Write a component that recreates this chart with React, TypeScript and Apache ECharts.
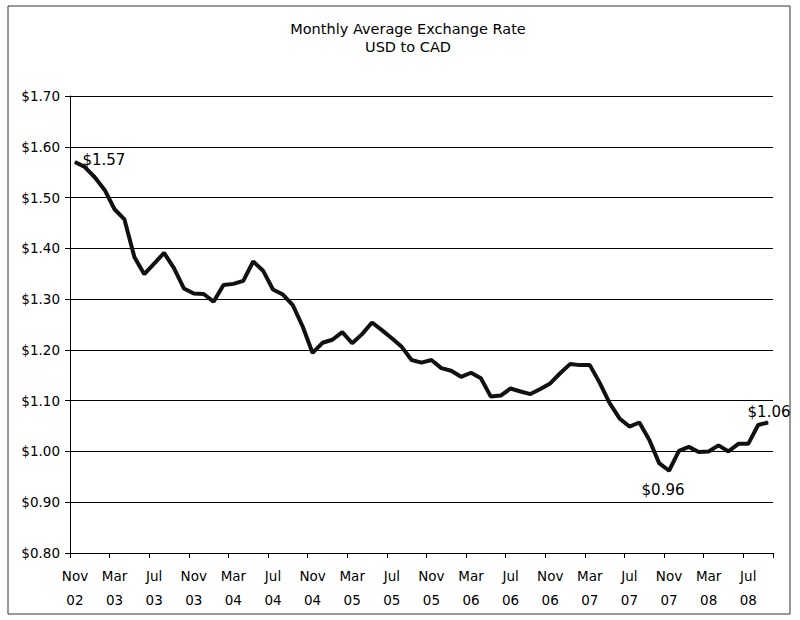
import React, { useEffect, useRef } from "react";
import * as echarts from "echarts";

const MONTHS = [
  "Nov 02", "Dec 02",
  "Jan 03", "Feb 03", "Mar 03", "Apr 03", "May 03", "Jun 03", "Jul 03", "Aug 03", "Sep 03", "Oct 03", "Nov 03", "Dec 03",
  "Jan 04", "Feb 04", "Mar 04", "Apr 04", "May 04", "Jun 04", "Jul 04", "Aug 04", "Sep 04", "Oct 04", "Nov 04", "Dec 04",
  "Jan 05", "Feb 05", "Mar 05", "Apr 05", "May 05", "Jun 05", "Jul 05", "Aug 05", "Sep 05", "Oct 05", "Nov 05", "Dec 05",
  "Jan 06", "Feb 06", "Mar 06", "Apr 06", "May 06", "Jun 06", "Jul 06", "Aug 06", "Sep 06", "Oct 06", "Nov 06", "Dec 06",
  "Jan 07", "Feb 07", "Mar 07", "Apr 07", "May 07", "Jun 07", "Jul 07", "Aug 07", "Sep 07", "Oct 07", "Nov 07", "Dec 07",
  "Jan 08", "Feb 08", "Mar 08", "Apr 08", "May 08", "Jun 08", "Jul 08", "Aug 08", "Sep 08",
];

const RATES = [
  1.57, 1.56,
  1.54, 1.515, 1.477, 1.457, 1.383, 1.349, 1.37, 1.391, 1.361, 1.321, 1.311, 1.31,
  1.295, 1.328, 1.33, 1.336, 1.374, 1.356, 1.319, 1.309, 1.288, 1.246, 1.194, 1.214,
  1.22, 1.235, 1.213, 1.231, 1.254, 1.239, 1.223, 1.206, 1.18, 1.175, 1.18, 1.164,
  1.159, 1.147, 1.155, 1.144, 1.108, 1.11, 1.124, 1.118, 1.113, 1.123, 1.134, 1.154,
  1.172, 1.17, 1.17, 1.135, 1.095, 1.065, 1.049, 1.057, 1.023, 0.977, 0.962, 1.001,
  1.009, 0.999, 1.0, 1.012, 1.0, 1.015, 1.015, 1.052, 1.057,
];

const TITLE_LINES = ["Monthly Average Exchange Rate", "USD to CAD"];
const LABELLED = [
  { index: 0, position: "right" },
  { index: 60, position: "bottom" },
  { index: 70, position: "top" },
];

const FONT = "'DejaVu Sans', Verdana, sans-serif";

export default function App() {
  const ref = useRef<HTMLDivElement>(null);
  useEffect(() => {
    document.body.style.margin = "0";
    if (!ref.current) return;
    const chart = echarts.init(ref.current, undefined, { renderer: "svg" });
    const offsets: Record<string, number[]> = {
      right: [2, -2],
      bottom: [-6, 6],
      top: [1, 2],
    };
    const data = RATES.map((v, i) => {
      const lab = LABELLED.find((l) => l.index === i);
      if (!lab) return v;
      return {
        value: v,
        label: {
          show: true,
          position: lab.position,
          offset: offsets[lab.position],
          formatter: (p: any) => "$" + Number(p.value).toFixed(2),
          color: "#000",
          fontFamily: FONT,
          fontSize: 15,
        },
      };
    });
    chart.setOption({
      animation: false,
      backgroundColor: "#fff",
      title: {
        text: TITLE_LINES.join("\n"),
        left: 403,
        textAlign: "center",
        top: 15,
        textStyle: {
          fontFamily: FONT,
          fontSize: 14.5,
          fontWeight: "normal",
          color: "#000",
          lineHeight: 18,
        },
      },
      graphic: [
        {
          type: "rect",
          shape: { x: 8, y: 6, width: 782, height: 608 },
          style: { fill: "none", stroke: "#333", lineWidth: 1 },
          silent: true,
        },
      ],
      grid: { left: 70, right: 27, top: 96, bottom: 67 },
      xAxis: {
        type: "category",
        data: MONTHS,
        boundaryGap: true,
        axisLine: { lineStyle: { color: "#000", width: 1 } },
        axisTick: { show: true, interval: 3, length: 5, lineStyle: { color: "#000" } },
        axisLabel: {
          interval: 3,
          formatter: (v: string) => v.replace(" ", "\n"),
          color: "#000",
          fontFamily: FONT,
          fontSize: 13.5,
          lineHeight: 24,
          margin: 11,
        },
        splitLine: { show: false },
      },
      yAxis: {
        type: "value",
        min: 0.8,
        max: 1.7,
        interval: 0.1,
        axisLine: { show: true, lineStyle: { color: "#000", width: 1 } },
        axisTick: { show: true, length: 5, lineStyle: { color: "#000" } },
        axisLabel: {
          formatter: (v: number) => "$" + v.toFixed(2),
          color: "#000",
          fontFamily: FONT,
          fontSize: 13.5,
          margin: 10,
        },
        splitLine: { show: true, lineStyle: { color: "#000", width: 1 } },
      },
      series: [
        {
          type: "line",
          data,
          symbol: "circle",
          symbolSize: 1,
          showSymbol: true,
          itemStyle: { color: "#111" },
          lineStyle: { color: "#111", width: 4 },
          z: 3,
        },
      ],
    });
    return () => chart.dispose();
  }, []);
  return <div ref={ref} style={{ width: 800, height: 620 }} />;
}
